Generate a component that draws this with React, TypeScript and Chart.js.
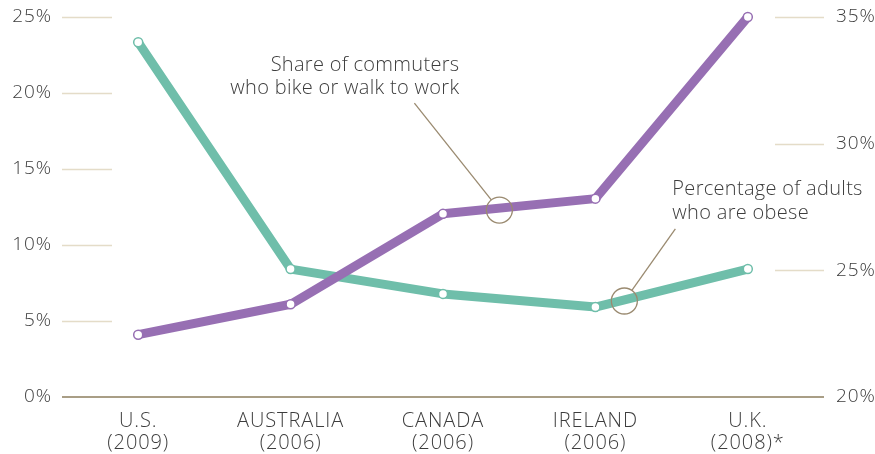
import React, { useEffect, useRef } from "react";
import { Chart, registerables } from "chart.js";

Chart.register(...registerables);

const categories: string[][] = [
  ["U.S.", "(2009)"],
  ["AUSTRALIA", "(2006)"],
  ["CANADA", "(2006)"],
  ["IRELAND", "(2006)"],
  ["U.K.", "(2008)*"],
];
const commuterShare = [4.1, 6.1, 12.05, 13.05, 25.0]; // left axis
const obesity = [34.0, 25.05, 24.07, 23.55, 25.05]; // right axis
const leftTicks = [0, 5, 10, 15, 20, 25];
const rightTicks = [20, 25, 30, 35];

const PURPLE = "#976fb3";
const TEAL = "#6fbeaa";
const FONT = "'Open Sans', Roboto, sans-serif";
const TEXT = "#3d3d3d";

// annotation anchors in data units
const noteCommuter = { lines: ["Share of commuters", "who bike or walk to work"], circleX: 2.37, circleY: 12.3, axis: "y" };
const noteObese = { lines: ["Percentage of adults", "who are obese"], circleX: 3.19, circleY: 23.79, axis: "y1" };

const decorPlugin = {
  id: "decor",
  beforeDraw(chart: any) {
    (chart.ctx as any).letterSpacing = "0.9px";
  },
  beforeDatasetsDraw(chart: any) {
    const { ctx, chartArea, scales } = chart;
    const y = scales.y;
    const y1 = scales.y1;
    ctx.save();
    ctx.lineWidth = 1.5;
    ctx.strokeStyle = "#e4dcc8";
    leftTicks.forEach((t) => {
      if (t === 0) return;
      const py = Math.round(y.getPixelForValue(t)) + 0.5;
      ctx.beginPath();
      ctx.moveTo(chartArea.left, py);
      ctx.lineTo(chartArea.left + 50, py);
      ctx.stroke();
    });
    rightTicks.forEach((t) => {
      if (t === 20) return;
      const py = Math.round(y1.getPixelForValue(t)) + 0.5;
      ctx.beginPath();
      ctx.moveTo(chartArea.right - 49, py);
      ctx.lineTo(chartArea.right, py);
      ctx.stroke();
    });
    // baseline
    ctx.strokeStyle = "#a99e86";
    ctx.lineWidth = 2;
    const by = y.getPixelForValue(0);
    ctx.beginPath();
    ctx.moveTo(chartArea.left, by);
    ctx.lineTo(chartArea.right, by);
    ctx.stroke();
    ctx.restore();
  },
  afterDatasetsDraw(chart: any) {
    const { ctx, scales } = chart;
    const x = scales.x;
    ctx.save();
    (ctx as any).letterSpacing = "0.3px";
    ctx.strokeStyle = "#9a8a70";
    ctx.lineWidth = 1.3;
    ctx.fillStyle = TEXT;
    ctx.font = `300 20px ${FONT}`;
    const r = 13;

    // commuter annotation
    {
      const cx = x.getPixelForValue(noteCommuter.circleX);
      const cy = scales[noteCommuter.axis].getPixelForValue(noteCommuter.circleY);
      ctx.beginPath();
      ctx.arc(cx, cy, r, 0, Math.PI * 2);
      ctx.stroke();
      const tx = cx - 85;
      const ty = cy - 107;
      const ang = Math.atan2(ty - cy, tx - cx);
      ctx.beginPath();
      ctx.moveTo(cx + r * Math.cos(ang), cy + r * Math.sin(ang));
      ctx.lineTo(tx, ty);
      ctx.stroke();
      ctx.textAlign = "right";
      ctx.textBaseline = "alphabetic";
      ctx.fillText(noteCommuter.lines[0], cx - 40, cy - 139);
      ctx.fillText(noteCommuter.lines[1], cx - 40, cy - 116);
    }
    // obesity annotation
    {
      const cx = x.getPixelForValue(noteObese.circleX);
      const cy = scales[noteObese.axis].getPixelForValue(noteObese.circleY);
      ctx.beginPath();
      ctx.arc(cx, cy, r, 0, Math.PI * 2);
      ctx.stroke();
      const tx = cx + 51;
      const ty = cy - 72;
      const ang = Math.atan2(ty - cy, tx - cx);
      ctx.beginPath();
      ctx.moveTo(cx + r * Math.cos(ang), cy + r * Math.sin(ang));
      ctx.lineTo(tx, ty);
      ctx.stroke();
      ctx.textAlign = "left";
      ctx.fillText(noteObese.lines[0], cx + 48, cy - 106);
      ctx.fillText(noteObese.lines[1], cx + 48, cy - 82);
    }
    ctx.restore();
  },
};

const zeroPad = (s: any) => {
  s.paddingTop = 0;
  s.paddingBottom = 0;
};

export default function App() {
  const ref = useRef<HTMLCanvasElement | null>(null);
  useEffect(() => {
    if (!ref.current) return;
    const chart = new Chart(ref.current, {
      type: "line",
      data: {
        labels: categories as any,
        datasets: [
          {
            label: "Share of commuters who bike or walk to work",
            data: commuterShare,
            yAxisID: "y",
            borderColor: PURPLE,
            backgroundColor: PURPLE,
            borderWidth: 9,
            borderJoinStyle: "round",
            borderCapStyle: "round",
            pointRadius: 4.5,
            pointBackgroundColor: "#ffffff",
            pointBorderColor: PURPLE,
            pointBorderWidth: 1.5,
            tension: 0,
            clip: false as any,
          },
          {
            label: "Percentage of adults who are obese",
            data: obesity,
            yAxisID: "y1",
            borderColor: TEAL,
            backgroundColor: TEAL,
            borderWidth: 9,
            borderJoinStyle: "round",
            borderCapStyle: "round",
            pointRadius: 4.5,
            pointBackgroundColor: "#ffffff",
            pointBorderColor: TEAL,
            pointBorderWidth: 1.5,
            tension: 0,
            clip: false as any,
          },
        ],
      },
      options: {
        responsive: false,
        animation: false,
        layout: { padding: { top: 17, left: 0, right: 0, bottom: 0 } },
        plugins: { legend: { display: false }, tooltip: { enabled: false } },
        scales: {
          x: {
            offset: true,
            grid: { display: false, drawTicks: false },
            border: { display: false },
            ticks: {
              color: TEXT,
              font: { family: FONT, size: 20, weight: 300 as any, lineHeight: 1.1 },
              padding: 13,
              maxRotation: 0,
              autoSkip: false,
            },
            afterFit: (s: any) => {
              s.height = 57;
              s.paddingLeft = 0;
              s.paddingRight = 0;
            },
          },
          y: {
            position: "left",
            min: 0,
            max: 25,
            afterBuildTicks: (s: any) => {
              s.ticks = leftTicks.map((v) => ({ value: v }));
            },
            grid: { display: false, drawTicks: false },
            border: { display: false },
            ticks: {
              color: TEXT,
              font: { family: FONT, size: 19, weight: 300 as any },
              padding: 10,
              callback: (v: any) => `${v}%`,
            },
            afterFit: (s: any) => {
              s.width = 62;
              zeroPad(s);
            },
          },
          y1: {
            position: "right",
            min: 20,
            max: 35,
            afterBuildTicks: (s: any) => {
              s.ticks = rightTicks.map((v) => ({ value: v }));
            },
            grid: { display: false, drawTicks: false },
            border: { display: false },
            ticks: {
              color: TEXT,
              font: { family: FONT, size: 19, weight: 300 as any },
              padding: 12,
              callback: (v: any) => `${v}%`,
            },
            afterFit: (s: any) => {
              s.width = 51;
              zeroPad(s);
            },
          },
        },
      },
      plugins: [decorPlugin],
    });
    return () => chart.destroy();
  }, []);
  return (
    <div style={{ position: "fixed", left: 0, top: 0, width: 875, height: 454, background: "#fff" }}>
      <canvas ref={ref} width={875} height={454} style={{ width: 875, height: 454, display: "block" }} />
    </div>
  );
}
